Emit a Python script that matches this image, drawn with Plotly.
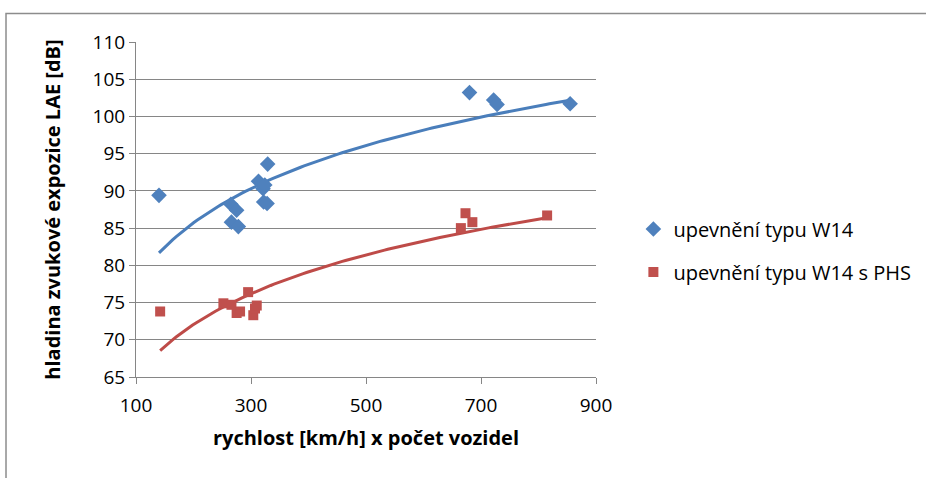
import numpy as np
import plotly.graph_objects as go

# Data
w14_x = [140, 265, 275, 266, 278, 313, 321, 324, 329, 322, 328, 680, 722, 728, 855]
w14_y = [89.4, 88.2, 87.4, 85.8, 85.2, 91.3, 90.3, 90.8, 93.6, 88.5, 88.3, 103.2, 102.2, 101.6, 101.7]
phs_x = [142, 252, 266, 275, 281, 295, 304, 307, 310, 665, 673, 685, 815]
phs_y = [73.8, 74.9, 74.7, 73.6, 73.8, 76.4, 73.3, 74.2, 74.6, 85.0, 87.0, 85.8, 86.7]

name_a = "upevnění typu W14"
name_b = "upevnění typu W14 s PHS"
x_title = "rychlost [km/h] x počet vozidel"
y_title = "hladina zvukové expozice LAE [dB]"
x_ticks = [100, 300, 500, 700, 900]
y_ticks = [65, 70, 75, 80, 85, 90, 95, 100, 105, 110]

blue = "#4F81BD"
red = "#C0504D"
FONT = "Open Sans"


def log_trend(xs, ys):
    xs = np.asarray(xs, float)
    ys = np.asarray(ys, float)
    a, b = np.polyfit(np.log(xs), ys, 1)
    tx = np.linspace(xs.min(), xs.max(), 120)
    return tx, a * np.log(tx) + b


fig = go.Figure()

tx, ty = log_trend(w14_x, w14_y)
fig.add_trace(go.Scatter(x=tx, y=ty, mode="lines", line=dict(color="#4A7EBB", width=3),
                         showlegend=False, hoverinfo="skip"))
tx2, ty2 = log_trend(phs_x, phs_y)
fig.add_trace(go.Scatter(x=tx2, y=ty2, mode="lines", line=dict(color="#BE4B48", width=3),
                         showlegend=False, hoverinfo="skip"))

fig.add_trace(go.Scatter(x=w14_x, y=w14_y, mode="markers", name=name_a, legendgroup="a",
                         marker=dict(symbol="diamond", size=12, color=blue)))
fig.add_trace(go.Scatter(x=phs_x, y=phs_y, mode="markers", name=name_b, legendgroup="b",
                         marker=dict(symbol="square", size=10, color=red)))

axis_col = "#868686"
fig.update_layout(
    width=926, height=478,
    margin=dict(l=136, r=330, t=41.5, b=101),
    paper_bgcolor="white", plot_bgcolor="white",
    font=dict(family=FONT, size=19, color="black"),
    xaxis=dict(range=[100, 900], tickvals=x_ticks, showgrid=False, zeroline=False,
               showline=True, linecolor=axis_col, linewidth=1,
               ticks="outside", ticklen=6, tickcolor=axis_col, ticklabelstandoff=5,
               tickfont=dict(family=FONT, size=19),
               title=dict(text="<b>" + x_title + "</b>", font=dict(family=FONT, size=20), standoff=14)),
    yaxis=dict(range=[65, 110], tickvals=y_ticks, showgrid=True, gridcolor=axis_col, gridwidth=1,
               zeroline=False, showline=True, linecolor=axis_col, linewidth=1,
               ticks="outside", ticklen=6, tickcolor=axis_col,
               tickfont=dict(family=FONT, size=19),
               title=dict(text="<b>" + y_title + "</b>", font=dict(family=FONT, size=20), standoff=26)),
    legend=dict(xref="container", yref="container", x=0.684, y=0.476, xanchor="left", yanchor="middle",
                font=dict(family=FONT, size=20), tracegroupgap=14,
                traceorder="grouped", bgcolor="rgba(0,0,0,0)", itemwidth=30),
    showlegend=True,
    shapes=[dict(type="rect", xref="paper", yref="paper",
                 x0=-0.2826, x1=1.8, y0=-0.35, y1=1.085,
                 line=dict(color="#8C8C8C", width=1.5), fillcolor="rgba(0,0,0,0)", layer="below")],
)

fig.write_html("out.html")
